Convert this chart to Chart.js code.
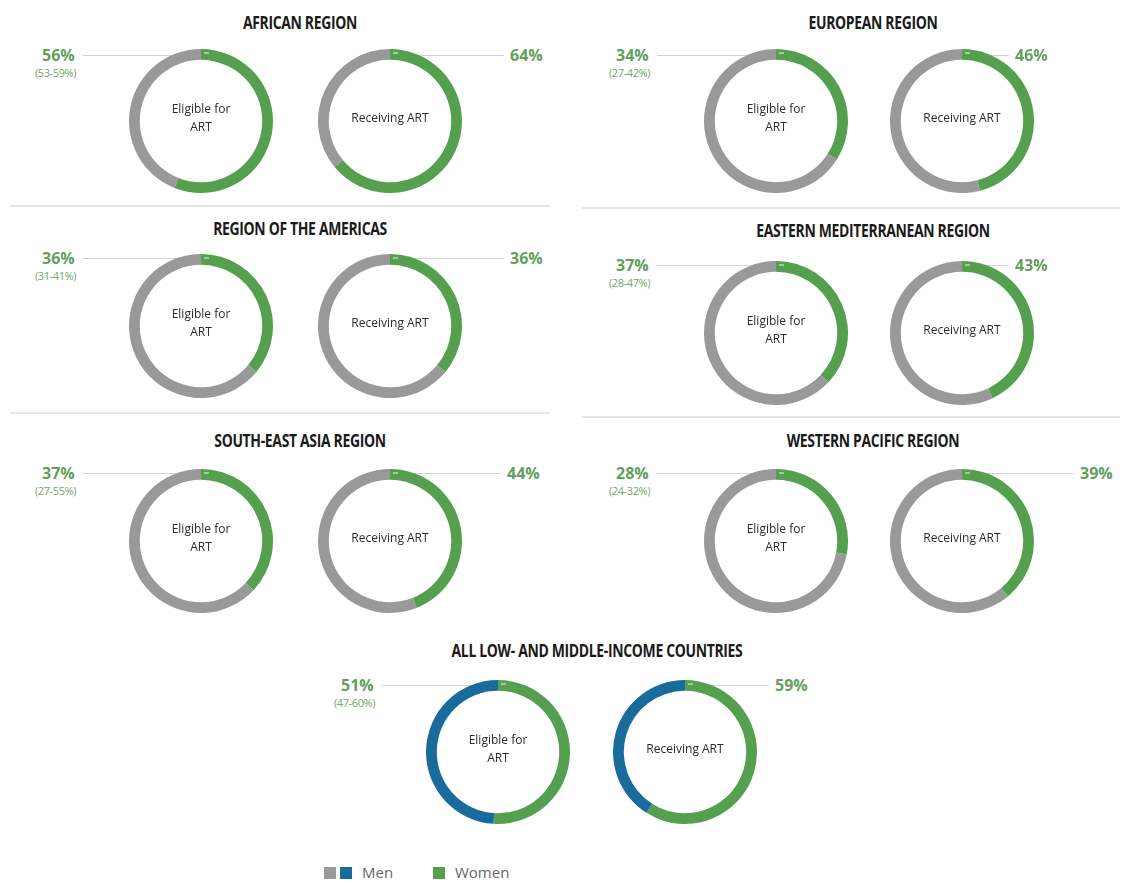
<!DOCTYPE html>
<html>
<head>
<meta charset="utf-8">
<script src="https://cdn.jsdelivr.net/npm/chart.js"></script>
<style>
  body { margin: 0; background: #fff; }
  #page { position: relative; width: 1125px; height: 883px; overflow: hidden; background: #fff; }
  canvas.ring { position: absolute; }
  .title { position: absolute; transform: translate(-50%, -50%) scaleX(0.82); white-space: nowrap;
           font-family: "Open Sans", sans-serif;
           font-weight: bold; font-size: 17px; color: #1a1a1a; letter-spacing: -0.4px; }
  .pct { position: absolute; font-family: "Open Sans", sans-serif; font-weight: bold;
         font-size: 16px; color: #62a05c; white-space: nowrap; transform: translateY(-50%); }
  .rng { position: absolute; font-family: "Open Sans", sans-serif; letter-spacing: -0.4px;
         font-size: 11px; color: #72a66c; white-space: nowrap; transform: translateY(-50%); }
  .lead { position: absolute; height: 1px; background: #d4d4d4; }
  .sep { position: absolute; height: 2px; background: #e6e6e6; }
  .leg { position: absolute; font-family: "Open Sans", sans-serif; font-size: 15px; color: #666; }
  .sw { position: absolute; width: 12px; height: 12px; }
</style>
</head>
<body>
<div id="page"></div>
<script>
// values: share of women (%)
const regions = ['AFRICAN REGION', 'EUROPEAN REGION', 'REGION OF THE AMERICAS',
  'EASTERN MEDITERRANEAN REGION', 'SOUTH-EAST ASIA REGION', 'WESTERN PACIFIC REGION',
  'ALL LOW- AND MIDDLE-INCOME COUNTRIES'];
const eligibleWomen = [56, 34, 36, 37, 37, 28, 51];
const eligibleRange = ['(53-59%)', '(27-42%)', '(31-41%)', '(28-47%)', '(27-55%)', '(24-32%)', '(47-60%)'];
const receivingWomen = [64, 46, 36, 43, 44, 39, 59];
const series = ['Women', 'Men'];
const ringLabels = [['Eligible for', 'ART'], ['Receiving ART']];

// colours
const GREEN = '#55a04f';
const GRAY = '#999999';
const BLUE = '#196b9b';

// panel layout (pixels)
const layout = [
  { title: [300, 22],  c1: [201, 121], c2: [390, 121], l1: 75,  l2: 510,  ly: 55 },
  { title: [873, 22],  c1: [776, 121], c2: [962, 121], l1: 649, l2: 1015, ly: 55 },
  { title: [300, 228], c1: [201, 326], c2: [390, 326], l1: 75,  l2: 510,  ly: 258 },
  { title: [873, 230], c1: [776, 333], c2: [962, 333], l1: 649, l2: 1015, ly: 265 },
  { title: [300, 440], c1: [201, 541], c2: [390, 541], l1: 75,  l2: 507,  ly: 473 },
  { title: [873, 440], c1: [776, 541], c2: [962, 541], l1: 649, l2: 1080, ly: 473 },
  { title: [597, 650], c1: [498, 752], c2: [685, 752], l1: 374, l2: 775,  ly: 685 }
];
const R = 72;

const page = document.getElementById('page');

function addDiv(cls, css, text) {
  const d = document.createElement('div');
  d.className = cls;
  Object.assign(d.style, css);
  if (text) d.textContent = text;
  page.appendChild(d);
  return d;
}

// text in the middle of each ring + small light tick where women start
const ringText = {
  id: 'ringText',
  afterDraw(chart, args, opts) {
    const ctx = chart.ctx;
    const arc = chart.getDatasetMeta(0).data[0];
    const x = arc.x, y = arc.y;
    ctx.save();
    ctx.strokeStyle = 'rgba(255,255,255,0.6)';
    ctx.lineWidth = 1.5;
    ctx.beginPath();
    ctx.moveTo(x + 3, y - arc.outerRadius + 4);
    ctx.lineTo(x + 8, y - arc.outerRadius + 4);
    ctx.stroke();
    ctx.fillStyle = '#2b2b2b';
    ctx.font = '12px "Open Sans", sans-serif';
    ctx.textAlign = 'center';
    ctx.textBaseline = 'middle';
    const lines = opts.lines;
    const lh = 18;
    lines.forEach((t, i) => {
      ctx.fillText(t, x, y + (i - (lines.length - 1) / 2) * lh - 2);
    });
    ctx.restore();
  }
};

function makeRing(center, women, menColor, lines) {
  const cv = document.createElement('canvas');
  cv.className = 'ring';
  cv.width = 2 * R;
  cv.height = 2 * R;
  cv.style.left = (center[0] - R) + 'px';
  cv.style.top = (center[1] - R) + 'px';
  page.appendChild(cv);
  new Chart(cv.getContext('2d'), {
    type: 'doughnut',
    data: {
      labels: series,
      datasets: [{
        data: [women, 100 - women],
        backgroundColor: [GREEN, menColor],
        borderWidth: 0
      }]
    },
    options: {
      responsive: false,
      animation: false,
      events: [],
      cutout: '85%',
      layout: { padding: 0 },
      plugins: {
        legend: { display: false },
        tooltip: { enabled: false },
        ringText: { lines: lines }
      }
    },
    plugins: [ringText]
  });
}

regions.forEach((name, i) => {
  const L = layout[i];
  const menColor = i === regions.length - 1 ? BLUE : GRAY;

  addDiv('title', { left: L.title[0] + 'px', top: L.title[1] + 'px' }, name);

  // leader lines
  addDiv('lead', { left: (L.l1 + 8) + 'px', top: L.ly + 'px', width: (L.c1[0] - L.l1 - 8) + 'px' });
  addDiv('lead', { left: L.c2[0] + 'px', top: L.ly + 'px', width: (L.l2 - 6 - L.c2[0]) + 'px' });

  makeRing(L.c1, eligibleWomen[i], menColor, ringLabels[0]);
  makeRing(L.c2, receivingWomen[i], menColor, ringLabels[1]);

  const p1 = addDiv('pct', { top: L.ly + 'px' }, eligibleWomen[i] + '%');
  p1.style.left = (L.l1 - p1.offsetWidth) + 'px';
  const r1 = addDiv('rng', { top: (L.ly + 17) + 'px' }, eligibleRange[i]);
  r1.style.left = (L.l1 + 1 - r1.offsetWidth) + 'px';
  addDiv('pct', { left: L.l2 + 'px', top: L.ly + 'px' }, receivingWomen[i] + '%');
});

// separators between panels
[[10, 205, 540], [582, 207, 538], [10, 412, 540], [582, 416, 538]].forEach(s => {
  addDiv('sep', { left: s[0] + 'px', top: s[1] + 'px', width: s[2] + 'px' });
});

// legend
addDiv('sw', { left: '324px', top: '867px', background: GRAY });
addDiv('sw', { left: '340px', top: '867px', background: BLUE });
addDiv('leg', { left: '362px', top: '862px' }, 'Men');
addDiv('sw', { left: '433px', top: '867px', background: GREEN });
addDiv('leg', { left: '455px', top: '862px' }, 'Women');
</script>
</body>
</html>
